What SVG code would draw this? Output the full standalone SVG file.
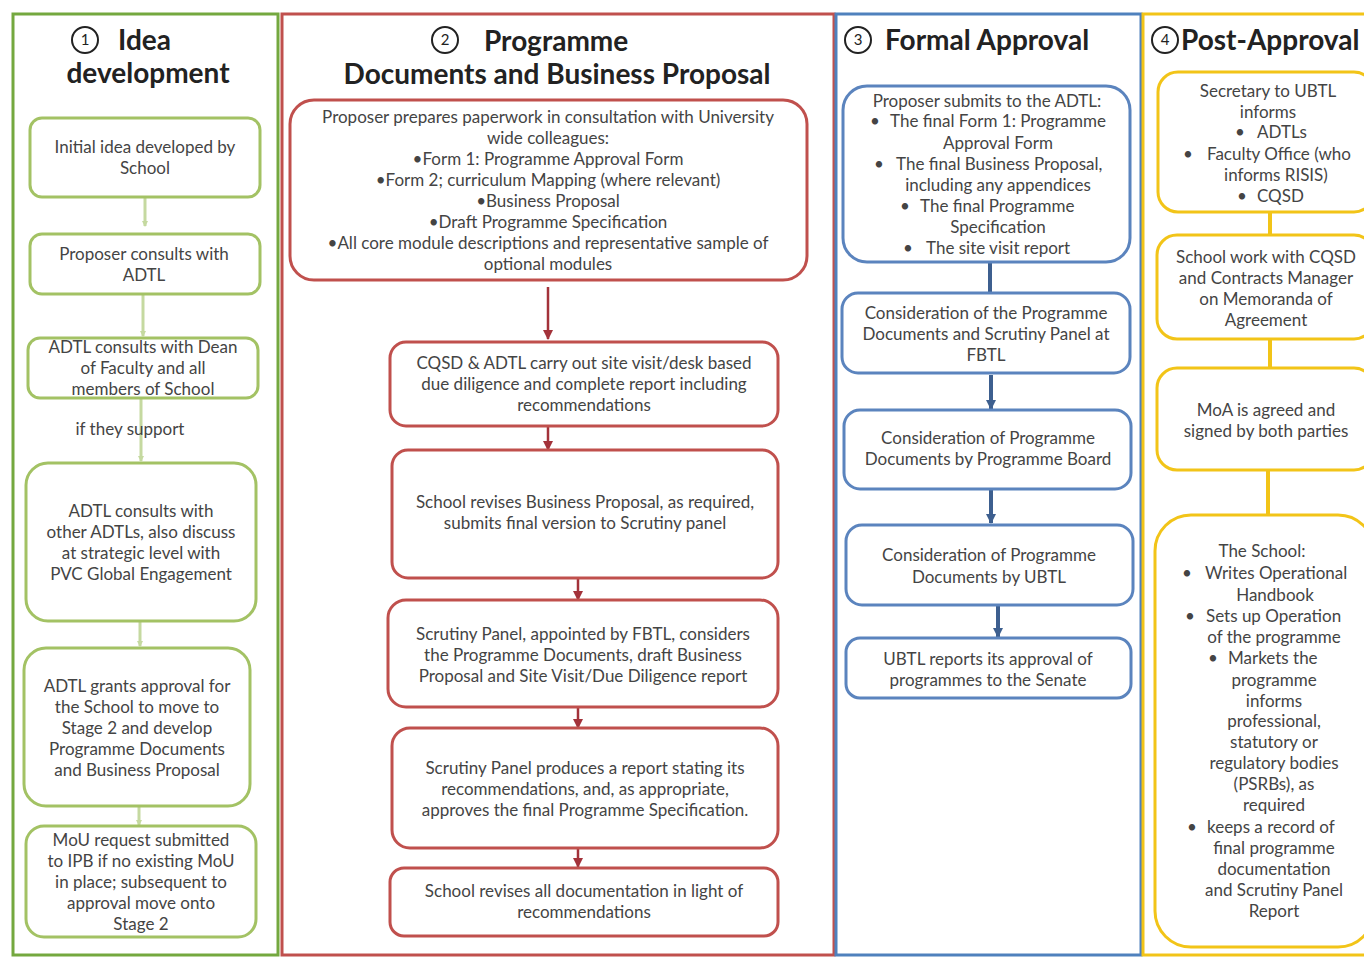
<svg xmlns="http://www.w3.org/2000/svg" width="1364" height="959" viewBox="0 0 1364 959">
<defs>
<style>
.hd{font-family:Lato,"Open Sans",sans-serif;font-weight:bold;font-size:28px;fill:#222}
.num{font-family:Lato,sans-serif;font-size:15px;fill:#222;text-anchor:middle}
.t{font-family:Lato,"Open Sans",sans-serif;font-size:17px;fill:#444;text-anchor:middle}
.s{font-family:Lato,"Open Sans",sans-serif;font-size:17px;fill:#444}
.circ{fill:none;stroke:#222;stroke-width:2}
.gN{fill:#fff;stroke:#a3c264;stroke-width:3}
.rN{fill:#fff;stroke:#c0504d;stroke-width:3}
.bN{fill:#fff;stroke:#5b84be;stroke-width:3}
.yN{fill:#fff;stroke:#f2c418;stroke-width:3}
.gL{stroke:#c5d9a0;stroke-width:3;fill:none}
.rL{stroke:#a3323a;stroke-width:2.5;fill:none}
.bL{stroke:#3d5f8f;stroke-width:4;fill:none}
.yL{stroke:#f2c418;stroke-width:4;fill:none}
</style>
<marker id="ag" markerWidth="6" markerHeight="6" refX="5" refY="3" orient="auto" markerUnits="userSpaceOnUse"><path d="M0,0 L6,3 L0,6 z" fill="#c5d9a0"/></marker>
<marker id="ar" markerWidth="10" markerHeight="10" refX="9" refY="5" orient="auto" markerUnits="userSpaceOnUse"><path d="M0,0 L10,5 L0,10 z" fill="#a3323a"/></marker>
<marker id="ab" markerWidth="10" markerHeight="10" refX="9" refY="5" orient="auto" markerUnits="userSpaceOnUse"><path d="M0,0 L10,5 L0,10 z" fill="#3d5f8f"/></marker>
</defs>
<rect width="1364" height="959" fill="#fff"/>

<g id="frames">
<rect x="13" y="14" width="265" height="941" fill="none" stroke="#74a83f" stroke-width="3"/>
<rect x="282" y="14" width="552" height="941" fill="none" stroke="#c0504d" stroke-width="3"/>
<rect x="836" y="14" width="305" height="941" fill="none" stroke="#4f81bd" stroke-width="3"/>
<rect x="1143" y="14" width="225" height="941" fill="none" stroke="#f2c418" stroke-width="3"/>
</g>

<g id="headers">
<circle class="circ" cx="85" cy="40" r="13"/><text class="num" x="85" y="45">1</text>
<text class="hd" x="118" y="50">Idea</text>
<text class="hd" x="148" y="83" text-anchor="middle">development</text>
<circle class="circ" cx="445" cy="40" r="13"/><text class="num" x="445" y="45">2</text>
<text class="hd" x="484" y="51">Programme</text>
<text class="hd" x="557" y="84" text-anchor="middle">Documents and Business Proposal</text>
<circle class="circ" cx="858" cy="40" r="13"/><text class="num" x="858" y="45">3</text>
<text class="hd" x="885" y="50">Formal Approval</text>
<circle class="circ" cx="1165" cy="40" r="13"/><text class="num" x="1165" y="45">4</text>
<text class="hd" x="1181" y="50">Post-Approval</text>
</g>

<g id="connectors">
<line class="gL" x1="145" y1="198" x2="145" y2="226" marker-end="url(#ag)"/>
<line class="gL" x1="143" y1="295" x2="143" y2="336" marker-end="url(#ag)"/>
<line class="gL" x1="141" y1="399" x2="141" y2="461" marker-end="url(#ag)"/>
<line class="gL" x1="140" y1="622" x2="140" y2="646" marker-end="url(#ag)"/>
<line class="gL" x1="139" y1="807" x2="139" y2="825" marker-end="url(#ag)"/>
<line class="rL" x1="548" y1="287" x2="548" y2="339" marker-end="url(#ar)"/>
<line class="rL" x1="548" y1="427" x2="548" y2="450" marker-end="url(#ar)"/>
<line class="rL" x1="578" y1="579" x2="578" y2="600" marker-end="url(#ar)"/>
<line class="rL" x1="578" y1="708" x2="578" y2="728" marker-end="url(#ar)"/>
<line class="rL" x1="578" y1="849" x2="578" y2="867" marker-end="url(#ar)"/>
<line class="bL" x1="990" y1="263" x2="990" y2="293"/>
<line class="bL" x1="991" y1="375" x2="991" y2="409" marker-end="url(#ab)"/>
<line class="bL" x1="991" y1="490" x2="991" y2="523" marker-end="url(#ab)"/>
<line class="bL" x1="998" y1="606" x2="998" y2="637" marker-end="url(#ab)"/>
<line class="yL" x1="1270" y1="213" x2="1270" y2="235"/>
<line class="yL" x1="1270" y1="340" x2="1270" y2="368"/>
<line class="yL" x1="1268" y1="471" x2="1268" y2="515"/>
</g>

<g id="g1"><rect class="gN" x="30" y="118" width="230" height="79" rx="12"/>
<text class="t" x="145" y="153">Initial idea developed by</text><text class="t" x="145" y="174">School</text></g>
<g id="g2"><rect class="gN" x="30" y="234" width="230" height="60" rx="12"/>
<text class="t" x="144" y="260">Proposer consults with</text><text class="t" x="144" y="281">ADTL</text></g>
<g id="g3"><rect class="gN" x="28" y="338" width="230" height="60" rx="12"/>
<text class="t" x="143" y="353">ADTL consults with Dean</text><text class="t" x="143" y="374">of Faculty and all</text><text class="t" x="143" y="395">members of School</text></g>
<text id="lbl-support" class="t" x="130" y="435">if they support</text>
<g id="g4"><rect class="gN" x="26" y="463" width="230" height="158" rx="22"/>
<text class="t" x="141" y="517">ADTL consults with</text><text class="t" x="141" y="538">other ADTLs, also discuss</text><text class="t" x="141" y="559">at strategic level with</text><text class="t" x="141" y="580">PVC Global Engagement</text></g>
<g id="g5"><rect class="gN" x="24" y="648" width="226" height="158" rx="22"/>
<text class="t" x="137" y="692">ADTL grants approval for</text><text class="t" x="137" y="713">the School to move to</text><text class="t" x="137" y="734">Stage 2 and develop</text><text class="t" x="137" y="755">Programme Documents</text><text class="t" x="137" y="776">and Business Proposal</text></g>
<g id="g6"><rect class="gN" x="26" y="826" width="230" height="111" rx="18"/>
<text class="t" x="141" y="846">MoU request submitted</text><text class="t" x="141" y="867">to IPB if no existing MoU</text><text class="t" x="141" y="888">in place; subsequent to</text><text class="t" x="141" y="909">approval move onto</text><text class="t" x="141" y="930">Stage 2</text></g>

<g id="r1"><rect class="rN" x="290" y="100" width="517" height="180" rx="24"/>
<text class="t" x="548" y="123">Proposer prepares paperwork in consultation with University</text>
<text class="t" x="548" y="144">wide colleagues:</text>
<text class="t" x="548" y="165">•Form 1: Programme Approval Form</text>
<text class="t" x="548" y="186">•Form 2; curriculum Mapping (where relevant)</text>
<text class="t" x="548" y="207">•Business Proposal</text>
<text class="t" x="548" y="228">•Draft Programme Specification</text>
<text class="t" x="548" y="249">•All core module descriptions and representative sample of</text>
<text class="t" x="548" y="270">optional modules</text></g>
<g id="r2"><rect class="rN" x="390" y="342" width="388" height="84" rx="16"/>
<text class="t" x="584" y="369">CQSD &amp; ADTL carry out site visit/desk based</text><text class="t" x="584" y="390">due diligence and complete report including</text><text class="t" x="584" y="411">recommendations</text></g>
<g id="r3"><rect class="rN" x="392" y="450" width="386" height="128" rx="16"/>
<text class="t" x="585" y="508">School revises Business Proposal, as required,</text><text class="t" x="585" y="529">submits final version to Scrutiny panel</text></g>
<g id="r4"><rect class="rN" x="388" y="600" width="390" height="107" rx="18"/>
<text class="t" x="583" y="640">Scrutiny Panel, appointed by FBTL,  considers</text><text class="t" x="583" y="661">the Programme Documents, draft Business</text><text class="t" x="583" y="682">Proposal and Site Visit/Due Diligence report</text></g>
<g id="r5"><rect class="rN" x="392" y="728" width="386" height="120" rx="18"/>
<text class="t" x="585" y="774">Scrutiny Panel produces a report stating its</text><text class="t" x="585" y="795">recommendations, and, as appropriate,</text><text class="t" x="585" y="816">approves the final Programme Specification.</text></g>
<g id="r6"><rect class="rN" x="390" y="868" width="388" height="68" rx="14"/>
<text class="t" x="584" y="897">School revises all documentation in light of</text><text class="t" x="584" y="918">recommendations</text></g>

<g id="b1"><rect class="bN" x="843" y="86" width="287" height="176" rx="24"/>
<text class="t" x="987" y="107">Proposer submits to the ADTL:</text>
<text class="s" y="127"><tspan x="870">•</tspan><tspan x="890">The final Form 1: Programme</tspan></text>
<text class="t" x="998" y="149">Approval Form</text>
<text class="s" y="170"><tspan x="874">•</tspan><tspan x="896">The final Business Proposal,</tspan></text>
<text class="t" x="998" y="191">including any appendices</text>
<text class="s" y="212"><tspan x="900">•</tspan><tspan x="920">The final Programme</tspan></text>
<text class="t" x="998" y="233">Specification</text>
<text class="s" y="254"><tspan x="903">•</tspan><tspan x="926">The site visit report</tspan></text></g>
<g id="b2"><rect class="bN" x="842" y="293" width="288" height="80" rx="16"/>
<text class="t" x="986" y="319">Consideration of the Programme</text><text class="t" x="986" y="340">Documents and Scrutiny Panel at</text><text class="t" x="986" y="361">FBTL</text></g>
<g id="b3"><rect class="bN" x="844" y="410" width="287" height="79" rx="16"/>
<text class="t" x="988" y="444">Consideration of Programme</text><text class="t" x="988" y="465">Documents by Programme Board</text></g>
<g id="b4"><rect class="bN" x="846" y="525" width="287" height="80" rx="16"/>
<text class="t" x="989" y="561">Consideration of Programme</text><text class="t" x="989" y="583">Documents by UBTL</text></g>
<g id="b5"><rect class="bN" x="846" y="638" width="285" height="60" rx="14"/>
<text class="t" x="988" y="665">UBTL reports its approval of</text><text class="t" x="988" y="686">programmes to the Senate</text></g>

<g id="y1"><rect class="yN" x="1158" y="72" width="216" height="140" rx="20"/>
<text class="t" x="1268" y="97">Secretary to UBTL</text>
<text class="t" x="1268" y="118">informs</text>
<text class="s" y="138"><tspan x="1235">•</tspan><tspan x="1257">ADTLs</tspan></text>
<text class="s" y="160"><tspan x="1183">•</tspan><tspan x="1207">Faculty Office (who</tspan></text>
<text class="t" x="1276" y="181">informs RISIS)</text>
<text class="s" y="202"><tspan x="1237">•</tspan><tspan x="1257">CQSD</tspan></text></g>
<g id="y2"><rect class="yN" x="1157" y="235" width="217" height="104" rx="20"/>
<text class="t" x="1266" y="263">School work with CQSD</text><text class="t" x="1266" y="284">and Contracts Manager</text><text class="t" x="1266" y="305">on Memoranda of</text><text class="t" x="1266" y="326">Agreement</text></g>
<g id="y3"><rect class="yN" x="1157" y="368" width="217" height="102" rx="20"/>
<text class="t" x="1266" y="416">MoA is agreed and</text><text class="t" x="1266" y="437">signed by both parties</text></g>
<g id="y4"><rect class="yN" x="1155" y="515" width="219" height="432" rx="36"/>
<text class="t" x="1262" y="557">The School:</text>
<text class="s" y="579"><tspan x="1182">•</tspan><tspan x="1205">Writes Operational</tspan></text>
<text class="t" x="1275" y="601">Handbook</text>
<text class="s" y="622"><tspan x="1185">•</tspan><tspan x="1206">Sets up Operation</tspan></text>
<text class="t" x="1274" y="643">of the programme</text>
<text class="s" y="664"><tspan x="1208">•</tspan><tspan x="1228">Markets the</tspan></text>
<text class="t" x="1274" y="686">programme</text>
<text class="t" x="1274" y="707">informs</text>
<text class="t" x="1274" y="727">professional,</text>
<text class="t" x="1274" y="748">statutory or</text>
<text class="t" x="1274" y="769">regulatory bodies</text>
<text class="t" x="1274" y="790">(PSRBs), as</text>
<text class="t" x="1274" y="811">required</text>
<text class="s" y="833"><tspan x="1187">•</tspan><tspan x="1207">keeps a record of</tspan></text>
<text class="t" x="1274" y="854">final programme</text>
<text class="t" x="1274" y="875">documentation</text>
<text class="t" x="1274" y="896">and Scrutiny Panel</text>
<text class="t" x="1274" y="917">Report</text></g>
</svg>
